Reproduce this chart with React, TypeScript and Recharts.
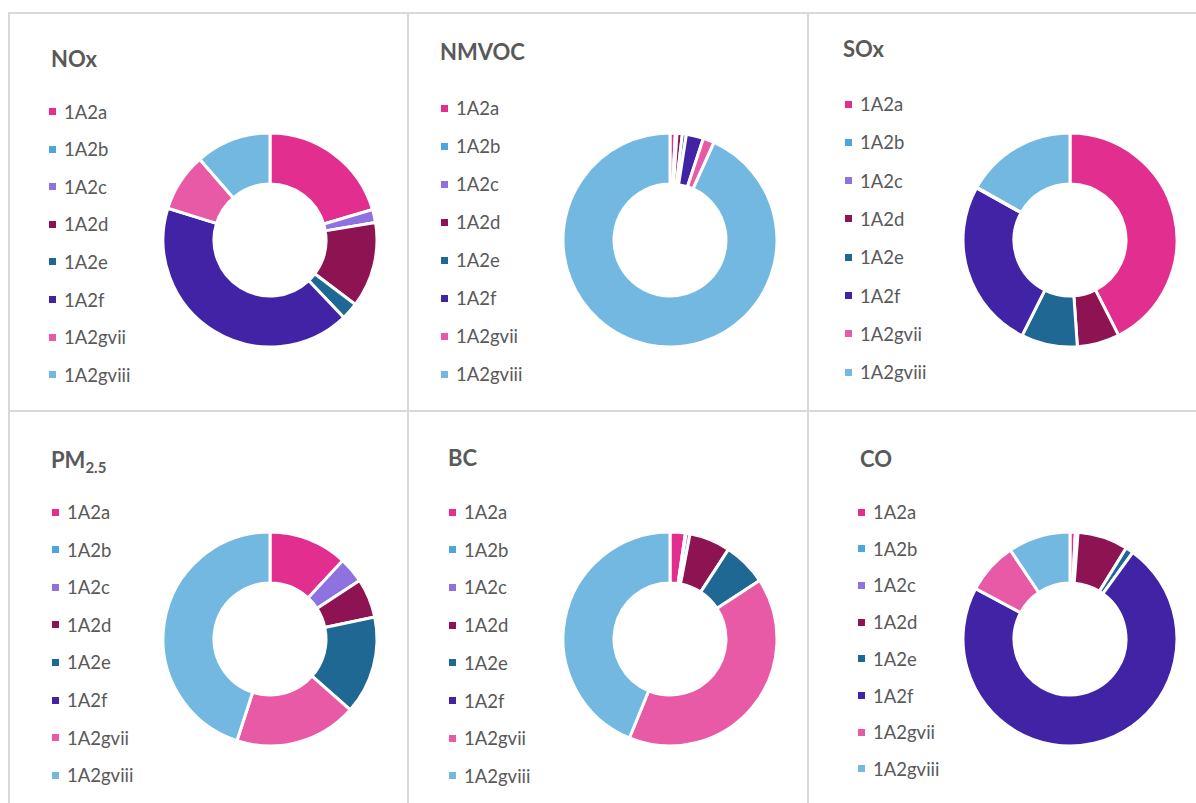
import React from 'react'
import { PieChart, Pie, Cell } from 'recharts'

const categories = ['1A2a', '1A2b', '1A2c', '1A2d', '1A2e', '1A2f', '1A2gvii', '1A2gviii']
const colors = ['#E22E8F', '#4CA5DE', '#8E72E0', '#8D1353', '#1F6893', '#4123A5', '#E85AA5', '#72B8E1']

// shares (%) read from the donuts
const noxValues = [20.4, 0, 2.0, 12.9, 2.6, 41.9, 8.8, 11.4]
const nmvocValues = [0.8, 0.05, 0.2, 0.8, 0.6, 2.6, 1.7, 93.25]
const soxValues = [42.5, 0, 0, 6.4, 8.5, 25.7, 0.1, 16.8]
const pm25Values = [11.9, 0, 3.9, 5.9, 14.8, 0, 18.5, 45.0]
const bcValues = [2.3, 0.1, 0.6, 6.2, 6.6, 0, 40.4, 43.8]
const coValues = [0.8, 0.2, 0.2, 7.6, 1.2, 72.8, 7.8, 9.4]

const panels = [
  { key: 'NOx', title: 'NOx', values: noxValues, x: 8, y: 12, titleX: 43, titleY: 36, legX: 41, legY: 99.5, step: 37.6 },
  { key: 'NMVOC', title: 'NMVOC', values: nmvocValues, x: 408, y: 12, titleX: 32, titleY: 29, legX: 33, legY: 96, step: 38 },
  { key: 'SOx', title: 'SOx', values: soxValues, x: 808, y: 12, titleX: 35, titleY: 26, legX: 37, legY: 92, step: 38.3 },
  { key: 'PM', title: 'PM', sub: '2.5', values: pm25Values, x: 8, y: 411, titleX: 43, titleY: 38, legX: 44, legY: 101, step: 37.6 },
  { key: 'BC', title: 'BC', values: bcValues, x: 408, y: 411, titleX: 40, titleY: 36, legX: 41, legY: 101, step: 37.7 },
  { key: 'CO', title: 'CO', values: coValues, x: 808, y: 411, titleX: 52, titleY: 37, legX: 50, legY: 101, step: 36.7 },
]

const font = 'Lato, "Open Sans", sans-serif'
const grey = '#595959'
const lineColor = '#d9d9d9'

function Panel({ p }: { p: (typeof panels)[number] }) {
  const data = categories.map((name, i) => ({ name, value: p.values[i] }))
  return (
    <div style={{ position: 'absolute', left: p.x, top: p.y, width: 400, height: 399 }}>
      <PieChart width={400} height={399} margin={{ top: 0, right: 0, bottom: 0, left: 0 }}>
        <Pie
          data={data}
          dataKey='value'
          cx={262}
          cy={228}
          innerRadius={56}
          outerRadius={107}
          startAngle={90}
          endAngle={-270}
          stroke='#fff'
          strokeWidth={3}
          isAnimationActive={false}
        >
          {data.map((d, i) => (
            <Cell key={d.name} fill={colors[i]} />
          ))}
        </Pie>
      </PieChart>
      <div
        style={{
          position: 'absolute',
          left: p.titleX,
          top: p.titleY,
          fontFamily: font,
          fontWeight: 700,
          fontSize: 22,
          lineHeight: '22px',
          color: grey,
          whiteSpace: 'nowrap',
        }}
      >
        {p.title}
        {p.sub && <sub style={{ fontSize: 15, verticalAlign: '-5px' }}>{p.sub}</sub>}
      </div>
      {categories.map((c, i) => (
        <div
          key={c}
          style={{
            position: 'absolute',
            left: p.legX,
            top: p.legY + i * p.step - 12,
            height: 24,
            display: 'flex',
            alignItems: 'center',
            fontFamily: font,
            fontSize: 18.5,
            color: grey,
            whiteSpace: 'nowrap',
          }}
        >
          <span style={{ width: 7, height: 7, background: colors[i], display: 'inline-block', marginRight: 8 }} />
          {c}
        </div>
      ))}
    </div>
  )
}

export default function App() {
  return (
    <div
      style={{
        position: 'fixed',
        left: 0,
        top: 0,
        width: 1196,
        height: 803,
        overflow: 'hidden',
        background: '#fff',
      }}
    >
      {panels.map((p) => (
        <Panel key={p.key} p={p} />
      ))}
      {/* panel borders */}
      {[8, 407, 807].map((x) => (
        <div key={'v' + x} style={{ position: 'absolute', left: x, top: 12, width: 2, height: 800, background: lineColor }} />
      ))}
      {[12, 410].map((y) => (
        <div key={'h' + y} style={{ position: 'absolute', left: 8, top: y, width: 1200, height: 2, background: lineColor }} />
      ))}
    </div>
  )
}
